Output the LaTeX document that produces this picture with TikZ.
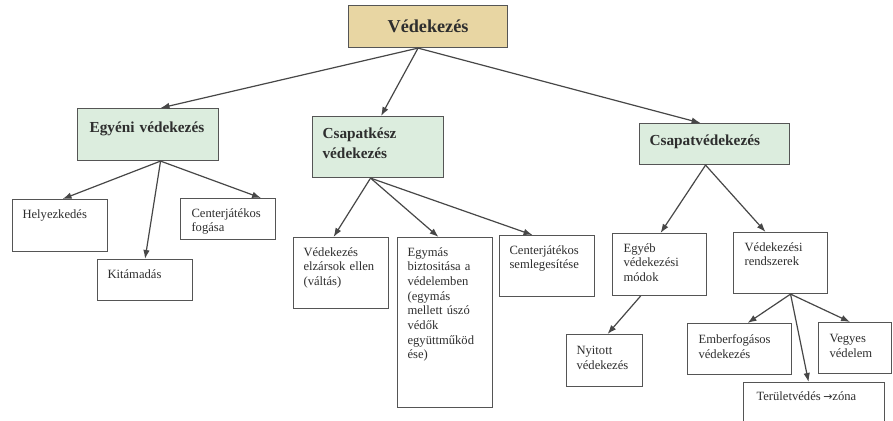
\documentclass[tikz,border=0pt]{standalone}
\usepackage{fontspec}
\setmainfont{Liberation Serif}
\newfontfamily\arrowfont{DejaVu Sans}
\usetikzlibrary{arrows.meta}
\definecolor{bordc}{HTML}{555555}
\definecolor{arrc}{HTML}{474747}
\definecolor{txtc}{HTML}{2E2E2E}
\definecolor{tanc}{HTML}{E8D6A3}
\definecolor{greenc}{HTML}{DCEDDE}
\tikzset{
  box/.style={draw=bordc, line width=1.1pt, anchor=north west, inner ysep=0pt, align=left, text=txtc},
  rootbox/.style={box, fill=tanc, align=center, inner xsep=0pt, font=\fontsize{18.2}{21}\selectfont\bfseries},
  lvl/.style={box, fill=greenc, inner xsep=10pt, font=\fontsize{15.3}{19.5}\selectfont\bfseries},
  leaf/.style={box, fill=white, inner xsep=10pt, text height=18.5pt, font=\fontsize{12.6}{14.7}\selectfont},
  arr/.style={draw=arrc, line width=1.2pt, -{Latex[length=9pt,width=6.5pt]}},
}
\begin{document}
\begin{tikzpicture}[x=1pt,y=-1pt]
\clip (0,0) rectangle (893,420);
\fill[white] (0,0) rectangle (893,420);
% root
\node[rootbox, text width=159pt, text height=27pt, text depth=15pt] (root) at (348,5) {Védekezés};
% level 1
\node[lvl, inner xsep=12pt, text width=117pt, text height=24pt, text depth=28pt] (egy) at (77,108) {Egyéni~védekezés};
\node[lvl, text width=111pt, text height=22pt, text depth=39pt] (csk) at (312,116) {Csapatkész\\védekezés};
\node[lvl, text width=130pt, text height=22pt, text depth=19pt] (csv) at (639,123) {Csapatvédekezés};
% leaves
\node[leaf, text width=75pt, text depth=33.5pt] (hel) at (12,199) {Helyezkedés};
\node[leaf, text width=75pt, text height=19pt, text depth=22pt] (kit) at (97,259) {Kitámadás};
\node[leaf, inner xsep=11pt, text width=73pt, text depth=22.5pt] (cfo) at (180,198) {Centerjátékos\\fogása};
\node[leaf, text width=75pt, text depth=52.5pt] (vel) at (293,237) {Védekezés\\elzársok~ellen\\(váltás)};
\node[leaf, text width=75pt, text depth=151.5pt] (egm) at (397,237) {Egymás\\biztositása~a\\védelemben\\(egymás\\mellett~úszó\\védők\\együttműköd\\ése)};
\node[leaf, text width=75pt, text depth=42.5pt] (csl) at (499,235) {Centerjátékos\\semlegesítése};
\node[leaf, inner xsep=11pt, text width=72pt, text depth=43.5pt] (egb) at (612,233) {Egyéb\\védekezési\\módok};
\node[leaf, inner xsep=11pt, text width=72pt, text depth=42.5pt] (vrs) at (733,232) {Védekezési\\rendszerek};
\node[leaf, text width=56pt, text height=20pt, text depth=32pt] (nyi) at (566,334) {Nyitott\\védekezés};
\node[leaf, inner xsep=11pt, text width=82pt, text height=20pt, text depth=31pt] (emb) at (687,323) {Emberfogásos\\védekezés};
\node[leaf, inner xsep=11pt, text width=51pt, text height=20pt, text depth=31pt] (veg) at (818,322) {Vegyes\\védelem};
\node[leaf, inner xsep=13pt, text width=115pt, text height=18pt, text depth=30pt] (ter) at (743,382) {Területvédés\hspace{2.5pt}{\arrowfont\fontsize{11}{12}\selectfont →}zóna};
% connectors
\draw[arr] ([xshift=-10pt]root.south) -- ([xshift=12.5pt]egy.north);
\draw[arr] ([xshift=-10pt]root.south) -- ([xshift=3pt]csk.north);
\draw[arr] ([xshift=-10pt]root.south) -- ([xshift=-14pt]csv.north);
\draw[arr] ([xshift=12.5pt]egy.south) -- ([xshift=2.5pt]hel.north);
\draw[arr] ([xshift=12.5pt]egy.south) -- (kit.north);
\draw[arr] ([xshift=12.5pt]egy.south) -- ([xshift=33pt]cfo.north);
\draw[arr] ([xshift=-7.5pt]csk.south) -- ([xshift=-7.5pt]vel.north);
\draw[arr] ([xshift=-7.5pt]csk.south) -- ([xshift=-6.5pt]egm.north);
\draw[arr] ([xshift=-7.5pt]csk.south) -- ([xshift=-14.5pt]csl.north);
\draw[arr] ([xshift=-9pt]csv.south) -- ([xshift=1pt]egb.north);
\draw[arr] ([xshift=-9pt]csv.south) -- ([xshift=-15pt]vrs.north);
\draw[arr] ([xshift=-19pt]egb.south) -- ([xshift=3pt]nyi.north);
\draw[arr] ([xshift=10pt]vrs.south) -- ([xshift=8pt]emb.north);
\draw[arr] ([xshift=10pt]vrs.south) -- ([xshift=-5pt]veg.north);
\draw[arr] ([xshift=10pt]vrs.south) -- ([xshift=-5.5pt]ter.north);
\end{tikzpicture}
\end{document}
